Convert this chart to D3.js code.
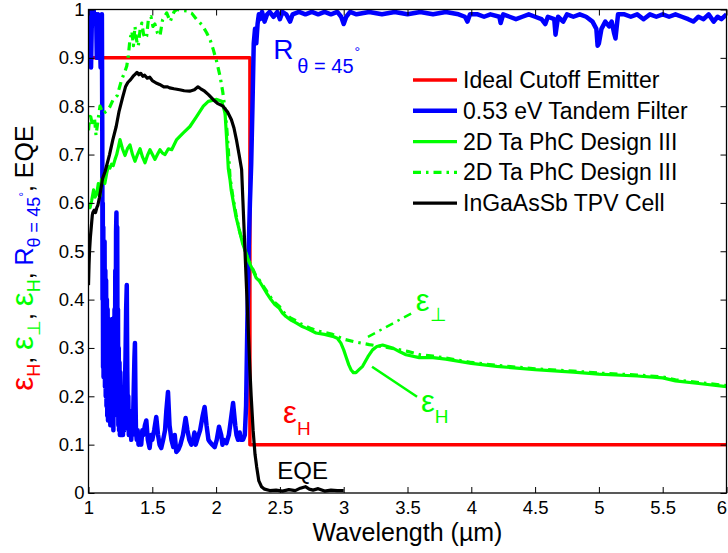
<!DOCTYPE html>
<html>
<head>
<meta charset="utf-8">
<script src="https://cdn.jsdelivr.net/npm/d3@7"></script>
<style>
  body { margin: 0; background: #fff; }
  svg { display: block; font-family: "Liberation Sans", Arial, Helvetica, sans-serif; }
</style>
</head>
<body>
<svg id="chart" width="728" height="553"></svg>
<script>
// ---- data -------------------------------------------------------------
const xTickValues = [1, 1.5, 2, 2.5, 3, 3.5, 4, 4.5, 5, 5.5, 6];
const xTickLabels = ["1", "1.5", "2", "2.5", "3", "3.5", "4", "4.5", "5", "5.5", "6"];
const yTickValues = [0, 0.1, 0.2, 0.3, 0.4, 0.5, 0.6, 0.7, 0.8, 0.9, 1];
const yTickLabels = ["0", "0.1", "0.2", "0.3", "0.4", "0.5", "0.6", "0.7", "0.8", "0.9", "1"];

const seriesNames = ["Ideal Cutoff Emitter", "0.53 eV Tandem Filter", "2D Ta PhC Design III",
                     "2D Ta PhC Design III", "InGaAsSb TPV Cell"];

// ideal cutoff emitter (step)
const cutoffWl  = [1.0, 2.265, 2.265, 6.0];
const cutoffVal = [0.9, 0.9, 0.1, 0.1];

// 0.53 eV tandem filter reflectance, theta = 45 deg
const filterWl = [
  1.000, 1.005, 1.010, 1.015, 1.020, 1.025, 1.030, 1.035, 1.040, 1.050, 1.060, 1.065, 1.070, 1.075,
  1.080, 1.085, 1.090, 1.095, 1.100, 1.105, 1.108, 1.110, 1.112, 1.114, 1.116, 1.118, 1.120, 1.123,
  1.126, 1.129, 1.132, 1.135, 1.138, 1.141, 1.144, 1.147, 1.150, 1.153, 1.156, 1.159, 1.162, 1.165,
  1.168, 1.171, 1.174, 1.177, 1.180, 1.183, 1.186, 1.189, 1.192, 1.195, 1.198, 1.201, 1.204, 1.207,
  1.210, 1.213, 1.216, 1.219, 1.222, 1.225, 1.228, 1.231, 1.234, 1.237, 1.240, 1.243, 1.246, 1.249,
  1.252, 1.255, 1.258, 1.261, 1.264, 1.267, 1.270, 1.275, 1.280, 1.285, 1.290, 1.295, 1.300, 1.304,
  1.308, 1.312, 1.316, 1.320, 1.325, 1.330, 1.335, 1.340, 1.345, 1.350, 1.355, 1.360, 1.364, 1.368,
  1.372, 1.378, 1.385, 1.392, 1.400, 1.413, 1.422, 1.430, 1.442, 1.453, 1.465, 1.479, 1.490, 1.500,
  1.515, 1.531, 1.545, 1.557, 1.570, 1.585, 1.600, 1.610, 1.623, 1.635, 1.650, 1.665, 1.676, 1.688,
  1.705, 1.720, 1.740, 1.761, 1.775, 1.790, 1.806, 1.820, 1.830, 1.840, 1.858, 1.875, 1.895, 1.910,
  1.925, 1.940, 1.950, 1.970, 1.989, 2.005, 2.023, 2.040, 2.050, 2.060, 2.081, 2.100, 2.115, 2.133,
  2.150, 2.160, 2.172, 2.185, 2.195, 2.211, 2.225, 2.235, 2.245, 2.255, 2.265, 2.275, 2.285, 2.295,
  2.305, 2.315, 2.325, 2.335, 2.345, 2.360, 2.380, 2.400, 2.420, 2.450, 2.480, 2.500, 2.520, 2.550,
  2.580, 2.600, 2.650, 2.700, 2.750, 2.800, 2.850, 2.900, 2.950, 2.980, 3.000, 3.020, 3.050, 3.100,
  3.200, 3.300, 3.400, 3.500, 3.600, 3.700, 3.800, 3.900, 3.950, 3.970, 3.990, 4.050, 4.100, 4.150,
  4.220, 4.230, 4.250, 4.300, 4.350, 4.400, 4.450, 4.500, 4.550, 4.580, 4.600, 4.650, 4.660, 4.680,
  4.720, 4.750, 4.800, 4.850, 4.900, 4.950, 4.980, 4.990, 5.000, 5.020, 5.050, 5.080, 5.100, 5.120,
  5.130, 5.150, 5.200, 5.250, 5.300, 5.350, 5.400, 5.450, 5.500, 5.550, 5.600, 5.650, 5.700, 5.740,
  5.780, 5.820, 5.860, 5.900, 5.930, 5.960, 6.000];
const filterR = [
  0.99, 0.93, 0.98, 1.00, 0.88, 0.96, 1.00, 0.99, 1.00, 0.97, 0.99, 0.90, 0.98, 0.99,
  0.97, 0.985, 0.94, 0.88, 0.96, 0.99, 0.75, 0.40, 0.60, 0.26, 0.55, 0.24, 0.50, 0.28,
  0.52, 0.22, 0.46, 0.20, 0.44, 0.18, 0.40, 0.16, 0.38, 0.15, 0.36, 0.17, 0.34, 0.15,
  0.30, 0.14, 0.33, 0.15, 0.28, 0.14, 0.36, 0.15, 0.30, 0.13, 0.34, 0.16, 0.38, 0.20,
  0.46, 0.30, 0.54, 0.58, 0.40, 0.55, 0.22, 0.38, 0.14, 0.30, 0.13, 0.27, 0.12, 0.25,
  0.13, 0.22, 0.12, 0.20, 0.13, 0.18, 0.12, 0.20, 0.13, 0.22, 0.28, 0.38, 0.43, 0.25,
  0.16, 0.20, 0.12, 0.17, 0.12, 0.15, 0.11, 0.14, 0.12, 0.16, 0.22, 0.28, 0.31, 0.20,
  0.13, 0.11, 0.13, 0.10, 0.12, 0.10, 0.13, 0.12, 0.14, 0.15, 0.11, 0.093, 0.12, 0.11,
  0.13, 0.157, 0.12, 0.10, 0.093, 0.11, 0.13, 0.17, 0.209, 0.14, 0.11, 0.095, 0.12, 0.085,
  0.09, 0.10, 0.12, 0.155, 0.13, 0.11, 0.10, 0.11, 0.125, 0.10, 0.116, 0.13, 0.16, 0.178,
  0.14, 0.11, 0.106, 0.10, 0.095, 0.11, 0.137, 0.12, 0.10, 0.11, 0.103, 0.12, 0.15, 0.186,
  0.14, 0.12, 0.11, 0.125, 0.11, 0.11, 0.12, 0.18, 0.35, 0.50, 0.60, 0.68, 0.80, 0.93,
  0.96, 0.93, 0.97, 0.99, 0.98, 0.995, 0.975, 0.99, 0.995, 0.985, 0.995, 0.98, 0.995, 0.99,
  0.975, 0.99, 0.995, 0.99, 0.995, 0.99, 0.995, 0.99, 0.995, 0.985, 0.97, 0.985, 0.995, 0.99,
  0.995, 0.99, 0.995, 0.99, 0.995, 0.99, 0.995, 0.99, 0.985, 0.975, 0.99, 0.99, 0.985, 0.99,
  0.985, 0.972, 0.99, 0.985, 0.98, 0.985, 0.99, 0.985, 0.98, 0.97, 0.985, 0.98, 0.948, 0.985,
  0.975, 0.99, 0.985, 0.99, 0.985, 0.975, 0.96, 0.925, 0.93, 0.96, 0.975, 0.965, 0.975, 0.95,
  0.94, 0.99, 0.99, 0.985, 0.99, 0.98, 0.99, 0.985, 0.99, 0.985, 0.99, 0.985, 0.98, 0.975,
  0.985, 0.98, 0.99, 0.975, 0.985, 0.98, 0.99];

// 2D Ta PhC Design III, hemispherical emittance (solid)
const phcHWl = [
  1.000, 1.012, 1.025, 1.040, 1.052, 1.064, 1.077, 1.090, 1.102, 1.114, 1.128, 1.143, 1.155, 1.168,
  1.181, 1.194, 1.208, 1.221, 1.234, 1.247, 1.266, 1.286, 1.305, 1.325, 1.345, 1.364, 1.384, 1.404,
  1.423, 1.443, 1.462, 1.482, 1.501, 1.521, 1.540, 1.560, 1.580, 1.600, 1.626, 1.652, 1.691, 1.743,
  1.795, 1.848, 1.900, 1.939, 1.970, 2.005, 2.044, 2.070, 2.083, 2.096, 2.109, 2.118, 2.157, 2.209,
  2.261, 2.290, 2.314, 2.340, 2.365, 2.400, 2.430, 2.460, 2.496, 2.520, 2.548, 2.590, 2.627, 2.670,
  2.705, 2.745, 2.783, 2.850, 2.913, 2.950, 2.978, 3.000, 3.018, 3.040, 3.057, 3.076, 3.096, 3.120,
  3.148, 3.190, 3.226, 3.260, 3.305, 3.383, 3.440, 3.488, 3.592, 3.700, 3.800, 4.000, 4.200, 4.500,
  4.800, 5.000, 5.300, 5.500, 5.600, 5.800, 6.000];
const phcHVal = [
  0.600, 0.590, 0.605, 0.627, 0.612, 0.618, 0.640, 0.614, 0.648, 0.650, 0.640, 0.662, 0.675, 0.672,
  0.680, 0.677, 0.690, 0.700, 0.715, 0.731, 0.712, 0.698, 0.712, 0.720, 0.700, 0.686, 0.700, 0.712,
  0.695, 0.683, 0.698, 0.710, 0.700, 0.690, 0.700, 0.710, 0.703, 0.700, 0.712, 0.710, 0.731, 0.745,
  0.758, 0.779, 0.800, 0.810, 0.812, 0.814, 0.810, 0.786, 0.731, 0.670, 0.648, 0.627, 0.570, 0.515,
  0.476, 0.460, 0.445, 0.438, 0.427, 0.412, 0.400, 0.390, 0.382, 0.372, 0.365, 0.357, 0.352, 0.345,
  0.341, 0.336, 0.331, 0.328, 0.324, 0.320, 0.310, 0.296, 0.282, 0.265, 0.255, 0.249, 0.249, 0.255,
  0.262, 0.282, 0.296, 0.303, 0.306, 0.300, 0.292, 0.286, 0.280, 0.280, 0.277, 0.268, 0.262, 0.255,
  0.250, 0.246, 0.242, 0.238, 0.232, 0.226, 0.220];

// 2D Ta PhC Design III, normal emittance (dash-dot)
const phcNWl = [
  1.000, 1.012, 1.024, 1.035, 1.047, 1.059, 1.075, 1.090, 1.115, 1.143, 1.170, 1.194, 1.225, 1.260,
  1.280, 1.300, 1.312, 1.325, 1.340, 1.352, 1.364, 1.378, 1.390, 1.405, 1.418, 1.432, 1.445, 1.456,
  1.469, 1.490, 1.505, 1.520, 1.540, 1.560, 1.580, 1.595, 1.613, 1.640, 1.670, 1.691, 1.730, 1.770,
  1.810, 1.848, 1.890, 1.926, 1.955, 1.978, 2.005, 2.031, 2.052, 2.070, 2.085, 2.096, 2.109, 2.130,
  2.157, 2.185, 2.209, 2.235, 2.261, 2.290, 2.314, 2.340, 2.365, 2.400, 2.430, 2.460, 2.496, 2.520,
  2.548, 2.590, 2.627, 2.670, 2.705, 2.745, 2.783, 2.850, 2.913, 3.000, 3.100, 3.200, 3.300, 3.400,
  3.500, 3.600, 3.700, 3.800, 4.000, 4.200, 4.500, 4.800, 5.000, 5.300, 5.500, 5.600, 5.800, 6.000];
const phcNVal = [
  0.750, 0.786, 0.770, 0.758, 0.775, 0.740, 0.772, 0.800, 0.785, 0.790, 0.800, 0.814, 0.822, 0.855,
  0.868, 0.883, 0.905, 0.938, 0.955, 0.925, 0.965, 0.935, 0.924, 0.960, 0.972, 0.948, 0.940, 0.945,
  0.979, 0.985, 0.965, 0.970, 0.952, 0.945, 0.978, 0.985, 0.993, 0.975, 0.995, 1.000, 0.998, 0.997,
  0.992, 0.979, 0.968, 0.952, 0.936, 0.917, 0.892, 0.862, 0.830, 0.793, 0.750, 0.710, 0.654, 0.615,
  0.575, 0.540, 0.518, 0.495, 0.478, 0.462, 0.448, 0.440, 0.430, 0.416, 0.404, 0.394, 0.386, 0.376,
  0.369, 0.361, 0.356, 0.349, 0.345, 0.340, 0.336, 0.332, 0.328, 0.318, 0.312, 0.307, 0.303, 0.298,
  0.293, 0.286, 0.283, 0.279, 0.270, 0.264, 0.257, 0.252, 0.248, 0.244, 0.240, 0.234, 0.228, 0.222];

// InGaAsSb TPV cell external quantum efficiency
const eqeWl = [
  1.000, 1.004, 1.008, 1.015, 1.020, 1.025, 1.030, 1.034, 1.045, 1.055, 1.065, 1.073, 1.085, 1.095,
  1.110, 1.130, 1.150, 1.165, 1.190, 1.217, 1.240, 1.269, 1.290, 1.308, 1.330, 1.350, 1.365, 1.380,
  1.395, 1.410, 1.425, 1.440, 1.460, 1.480, 1.500, 1.530, 1.557, 1.590, 1.620, 1.636, 1.670, 1.714,
  1.750, 1.793, 1.830, 1.858, 1.880, 1.910, 1.940, 1.976, 2.010, 2.054, 2.090, 2.120, 2.140, 2.159,
  2.180, 2.200, 2.210, 2.226, 2.240, 2.255, 2.265, 2.275, 2.290, 2.305, 2.318, 2.335, 2.356, 2.380,
  2.420, 2.470, 2.520, 2.570, 2.620, 2.660, 2.700, 2.730, 2.760, 2.800, 2.850, 2.900, 2.950, 3.000];
const eqeVal = [
  0.430, 0.470, 0.500, 0.530, 0.545, 0.560, 0.575, 0.580, 0.585, 0.580, 0.590, 0.595, 0.610, 0.625,
  0.650, 0.665, 0.685, 0.700, 0.730, 0.758, 0.790, 0.820, 0.840, 0.849, 0.855, 0.862, 0.866, 0.870,
  0.865, 0.868, 0.862, 0.864, 0.858, 0.860, 0.853, 0.848, 0.845, 0.840, 0.840, 0.838, 0.836, 0.834,
  0.832, 0.831, 0.834, 0.840, 0.836, 0.831, 0.824, 0.814, 0.806, 0.800, 0.788, 0.772, 0.755, 0.731,
  0.700, 0.669, 0.605, 0.503, 0.414, 0.319, 0.255, 0.200, 0.130, 0.080, 0.054, 0.025, 0.013, 0.008,
  0.005, 0.006, 0.004, 0.007, 0.005, 0.010, 0.013, 0.008, 0.006, 0.009, 0.004, 0.006, 0.005, 0.005];

// ---- layout -----------------------------------------------------------
const W = 728, H = 553;
const plot = { left: 88.5, right: 726.5, top: 9.5, bottom: 493 };
const FONT = '"Liberation Sans", Arial, Helvetica, sans-serif';
const C = { red: "#ff0000", blue: "#0000ff", green: "#00ff00", black: "#000000" };

const svg = d3.select("#chart");
svg.append("rect").attr("width", W).attr("height", H).attr("fill", "#fff");

const x = d3.scaleLinear().domain([1, 6]).range([plot.left, plot.right]);
const y = d3.scaleLinear().domain([0, 1]).range([plot.bottom, plot.top]);

svg.append("defs").append("clipPath").attr("id", "plotClip")
  .append("rect")
  .attr("x", plot.left).attr("y", plot.top)
  .attr("width", plot.right - plot.left).attr("height", plot.bottom - plot.top);

const zip = (a, b) => a.map((v, i) => [v, b[i]]);
const line = d3.line().x(d => x(d[0])).y(d => y(d[1]));

const series = [
  { data: zip(cutoffWl, cutoffVal), color: C.red,   width: 3.5, dash: null },
  { data: zip(filterWl, filterR),   color: C.blue,  width: 4.5, dash: null },
  { data: zip(phcHWl, phcHVal),     color: C.green, width: 3.2, dash: null },
  { data: zip(phcNWl, phcNVal),     color: C.green, width: 3.2, dash: "8,5,2.5,5" },
  { data: zip(eqeWl, eqeVal),       color: C.black, width: 3.2, dash: null }
];

const lines = svg.append("g").attr("clip-path", "url(#plotClip)");
series.forEach(s => {
  lines.append("path")
    .datum(s.data)
    .attr("d", line)
    .attr("fill", "none")
    .attr("stroke", s.color)
    .attr("stroke-width", s.width)
    .attr("stroke-linejoin", "round")
    .attr("stroke-dasharray", s.dash);
});

// ---- axes (box with inward ticks) ---------------------------------------
const tickLen = 6;
const axisFont = 18.5;

const gx = svg.append("g").attr("transform", `translate(0,${plot.bottom})`)
  .call(d3.axisBottom(x).tickValues(xTickValues)
    .tickFormat((d, i) => xTickLabels[i]).tickSizeInner(-tickLen).tickSizeOuter(0).tickPadding(8));
const gxTop = svg.append("g").attr("transform", `translate(0,${plot.top})`)
  .call(d3.axisTop(x).tickValues(xTickValues).tickFormat("").tickSizeInner(-tickLen).tickSizeOuter(0));
const gy = svg.append("g").attr("transform", `translate(${plot.left},0)`)
  .call(d3.axisLeft(y).tickValues(yTickValues)
    .tickFormat((d, i) => yTickLabels[i]).tickSizeInner(-tickLen).tickSizeOuter(0).tickPadding(4));
const gyRight = svg.append("g").attr("transform", `translate(${plot.right},0)`)
  .call(d3.axisRight(y).tickValues(yTickValues).tickFormat("").tickSizeInner(-tickLen).tickSizeOuter(0));

[gx, gxTop, gy, gyRight].forEach(g => {
  g.select(".domain").remove();
  g.selectAll("line").attr("stroke", "#000").attr("stroke-width", 1);
  g.selectAll("text").attr("font-family", FONT).attr("font-size", axisFont).attr("fill", "#000");
});
// the last x label sits on the figure edge; keep it inside the canvas
gx.selectAll("text").filter((d, i) => i === xTickValues.length - 1)
  .attr("text-anchor", "end").attr("dx", 0);

svg.append("rect")
  .attr("x", plot.left).attr("y", plot.top)
  .attr("width", plot.right - plot.left).attr("height", plot.bottom - plot.top)
  .attr("fill", "none").attr("stroke", "#000").attr("stroke-width", 1.3);

// ---- axis labels --------------------------------------------------------
svg.append("text")
  .attr("x", (plot.left + plot.right) / 2).attr("y", 541)
  .attr("text-anchor", "middle").attr("font-family", FONT).attr("font-size", 25)
  .text("Wavelength (\u00b5m)");

// multi-coloured y label: eps_H, eps_perp, eps_H, R_theta=45deg, EQE
const yl = svg.append("text")
  .attr("transform", "translate(33,258) rotate(-90)")
  .attr("text-anchor", "middle").attr("font-family", FONT).attr("font-size", 25);
const ylParts = [
  { t: "\u03b5", c: C.red, fs: 31, dy: 0 },
  { t: "H", c: C.red, fs: 18, dy: 7 },
  { t: ", ", c: C.black, fs: 25, dy: -7 },
  { t: "\u03b5", c: C.green, fs: 31, dy: 0 },
  { t: "\u22a5", c: C.green, fs: 18, dy: 7 },
  { t: ", ", c: C.black, fs: 25, dy: -7 },
  { t: "\u03b5", c: C.green, fs: 31, dy: 0 },
  { t: "H", c: C.green, fs: 18, dy: 7 },
  { t: ", ", c: C.black, fs: 25, dy: -7 },
  { t: "R", c: C.blue, fs: 25, dy: 0 },
  { t: "\u03b8 = 45", c: C.blue, fs: 18, dy: 7 },
  { t: "\u00b0", c: C.blue, fs: 12, dy: -12 },
  { t: ", EQE", c: C.black, fs: 25, dy: 5 }
];
ylParts.forEach(p => {
  yl.append("tspan").attr("fill", p.c).attr("font-size", p.fs).attr("dy", p.dy).text(p.t);
});

// ---- legend -------------------------------------------------------------
const legend = { x0: 413, x1: 457, tx: 463, y0: 80, dy: 30.8, fs: 23 };
series.forEach((s, i) => {
  const cy = legend.y0 + i * legend.dy;
  svg.append("line")
    .attr("x1", legend.x0).attr("x2", legend.x1).attr("y1", cy).attr("y2", cy)
    .attr("stroke", s.color).attr("stroke-width", s.width)
    .attr("stroke-dasharray", s.dash);
  svg.append("text")
    .attr("x", legend.tx).attr("y", cy + 8)
    .attr("font-family", FONT).attr("font-size", legend.fs).attr("fill", "#000")
    .text(seriesNames[i]);
});

// ---- in-plot annotations (positions in data units) ---------------------
function subLabel(lx, ly, main, sub, color, mainFs, subFs, subDy) {
  const t = svg.append("text")
    .attr("x", x(lx)).attr("y", y(ly))
    .attr("font-family", FONT).attr("fill", color);
  t.append("tspan").attr("font-size", mainFs).text(main);
  t.append("tspan").attr("font-size", subFs).attr("dy", subDy).text(sub);
  return t;
}

// R_theta=45deg next to the filter edge
const rLab = svg.append("text").attr("x", x(2.447)).attr("y", y(0.898))
  .attr("font-family", FONT).attr("fill", C.blue);
rLab.append("tspan").attr("font-size", 28).text("R");
rLab.append("tspan").attr("font-size", 20).attr("dx", 4).attr("dy", 14).text("\u03b8 = 45");
rLab.append("tspan").attr("font-size", 14).attr("dx", 1).attr("dy", -16).text("\u00b0");

subLabel(2.525, 0.145, "\u03b5", "H", C.red, 31, 19, 12);
subLabel(2.48, 0.028, "EQE", "", C.black, 24, 10, 0);

// pointers to the two PhC curves
svg.append("line")
  .attr("x1", x(3.19)).attr("y1", y(0.323)).attr("x2", x(3.535)).attr("y2", y(0.372))
  .attr("stroke", C.green).attr("stroke-width", 2.5).attr("stroke-dasharray", "8,5,2.5,5");
svg.append("line")
  .attr("x1", x(3.222)).attr("y1", y(0.261)).attr("x2", x(3.575)).attr("y2", y(0.199))
  .attr("stroke", C.green).attr("stroke-width", 2.5);

subLabel(3.565, 0.376, "\u03b5", "\u22a5", C.green, 31, 19, 10);
subLabel(3.605, 0.168, "\u03b5", "H", C.green, 31, 19, 11);
</script>
</body>
</html>
